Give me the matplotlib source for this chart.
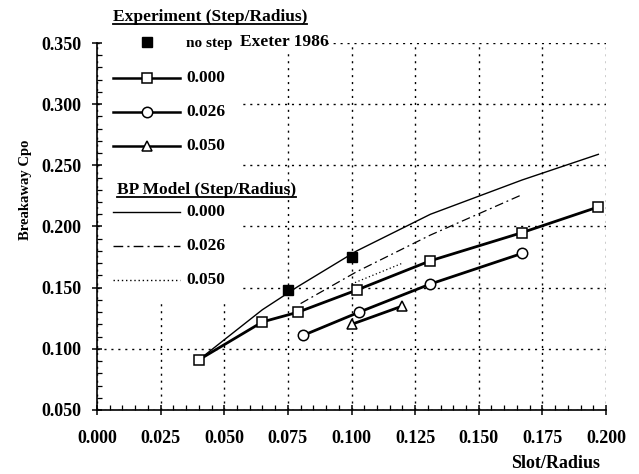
import matplotlib

matplotlib.use("Agg")
import matplotlib.pyplot as plt
from matplotlib.lines import Line2D
from matplotlib.patches import Rectangle
from matplotlib.ticker import FormatStrFormatter, MultipleLocator

# experiment, step/radius = 0.000 (open squares)
exp_000_x = [0.040, 0.065, 0.079, 0.102, 0.131, 0.167, 0.197]
exp_000_y = [0.091, 0.122, 0.130, 0.148, 0.172, 0.195, 0.216]
# experiment, step/radius = 0.026 (open circles)
exp_026_x = [0.081, 0.103, 0.131, 0.167]
exp_026_y = [0.111, 0.130, 0.153, 0.178]
# experiment, step/radius = 0.050 (open triangles)
exp_050_x = [0.100, 0.120]
exp_050_y = [0.120, 0.135]
# no step, Exeter 1986 (filled squares)
exeter_x = [0.075, 0.100]
exeter_y = [0.148, 0.175]

# BP model curves
bp_000_x = [0.040, 0.065, 0.079, 0.102, 0.131, 0.167, 0.197]
bp_000_y = [0.091, 0.132, 0.151, 0.180, 0.210, 0.238, 0.259]
bp_026_x = [0.080, 0.102, 0.131, 0.167]
bp_026_y = [0.137, 0.163, 0.193, 0.226]
bp_050_x = [0.100, 0.120]
bp_050_y = [0.153, 0.170]

x_ticks = [0.0, 0.025, 0.05, 0.075, 0.1, 0.125, 0.15, 0.175, 0.2]
y_ticks = [0.05, 0.1, 0.15, 0.2, 0.25, 0.3, 0.35]

W, H = 639, 474
FONT = "Liberation Serif"
GRID_LS = (0, (1.5, 3.5))
DASHDOT = (0, (7, 3, 1.5, 3))
DOTTED = (0, (1, 2))


def fx(px):
    return px / W


def fy(py):
    return 1 - py / H


def main() -> None:
    plt.rcParams["font.family"] = FONT
    fig = plt.figure(figsize=(W / 100, H / 100), dpi=100)
    ax = fig.add_axes([fx(97), fy(410), fx(606) - fx(97), fy(43) - fy(410)])
    ax.set_axisbelow(True)

    ax.set_xlim(0.0, 0.2)
    ax.set_ylim(0.05, 0.35)
    ax.set_xticks(x_ticks)
    ax.set_yticks(y_ticks)
    ax.xaxis.set_major_formatter(FormatStrFormatter("%.3f"))
    ax.yaxis.set_major_formatter(FormatStrFormatter("%.3f"))
    ax.xaxis.set_minor_locator(MultipleLocator(0.005))
    ax.yaxis.set_minor_locator(MultipleLocator(0.01))
    ax.tick_params(which="major", direction="inout", length=7, width=1.1, labelsize=13)
    ax.tick_params(which="minor", direction="in", length=3.5, width=0.9)
    ax.tick_params(axis="x", which="major", pad=11)
    ax.tick_params(axis="y", which="major", pad=8)
    for lab in ax.get_xticklabels() + ax.get_yticklabels():
        lab.set_fontweight("bold")

    ax.grid(True, which="major", color="black", linestyle=GRID_LS, linewidth=1.0)
    for side in ("top", "right"):
        ax.spines[side].set_visible(False)
    for side in ("left", "bottom"):
        ax.spines[side].set_linewidth(1.2)

    # legend area hides the grid behind it
    ax.add_patch(Rectangle((0.0025, 0.139), 0.055, 0.22, facecolor="white",
                           edgecolor="none", zorder=1, clip_on=False))
    ax.add_patch(Rectangle((0.0575, 0.341), 0.031, 0.018, facecolor="white",
                           edgecolor="none", zorder=1, clip_on=False))

    ax.plot(bp_000_x, bp_000_y, color="black", linewidth=1.0, zorder=3)
    ax.plot(bp_026_x, bp_026_y, color="black", linewidth=0.9, linestyle=DASHDOT, zorder=3)
    ax.plot(bp_050_x, bp_050_y, color="black", linewidth=0.9, linestyle=DOTTED, zorder=3)

    exp_style = dict(color="black", linewidth=2.0, markerfacecolor="white",
                     markeredgecolor="black", markeredgewidth=1.1, zorder=4)
    ax.plot(exp_000_x, exp_000_y, marker="s", markersize=7.5, **exp_style)
    ax.plot(exp_026_x, exp_026_y, marker="o", markersize=7.5, **exp_style)
    ax.plot(exp_050_x, exp_050_y, marker="^", markersize=7, **exp_style)
    ax.plot(exeter_x, exeter_y, linestyle="none", marker="s", markersize=7,
            color="black", zorder=5)

    ax.set_ylabel("Breakaway Cpo", fontsize=10.5, fontweight="bold")
    ax.yaxis.set_label_coords(-(97 - 32) / 509, (410 - 190) / 367)
    ax.set_xlabel("Slot/Radius", fontsize=13, fontweight="bold", ha="right", va="center")
    ax.xaxis.set_label_coords((600 - 97) / 509, -(464 - 410) / 367)

    # hand-built legend
    def handle(py, **kw):
        fig.add_artist(Line2D([fx(113), fx(180)], [fy(py), fy(py)], color="black", **kw))

    def label(px, py, s, size=12.5):
        return fig.text(fx(px), fy(py), s, fontsize=size, fontweight="bold",
                        ha="left", va="center")

    titles = [label(113, 17, "Experiment (Step/Radius)"),
              label(117, 190, "BP Model (Step/Radius)")]

    fig.add_artist(Line2D([fx(147)], [fy(42)], linestyle="none", marker="s",
                          markersize=6.5, color="black"))
    label(186, 43, "no step", size=11)
    label(240, 42, "Exeter 1986")

    exp_rows = [(78, "s", 7.5, "0.000"), (112, "o", 7.5, "0.026"), (146, "^", 6.5, "0.050")]
    for py, mk, ms, text in exp_rows:
        handle(py, linewidth=1.8)
        fig.add_artist(Line2D([fx(147)], [fy(py)], linestyle="none", marker=mk,
                              markersize=ms, markerfacecolor="white",
                              markeredgecolor="black", markeredgewidth=1.1))
        label(186, py, text)

    bp_rows = [(212, "-", "0.000"), (246, DASHDOT, "0.026"), (280, DOTTED, "0.050")]
    for py, ls, text in bp_rows:
        handle(py, linewidth=1.0, linestyle=ls)
        label(186, py, text)

    fig.canvas.draw()
    renderer = fig.canvas.get_renderer()
    for t in titles:
        bb = t.get_window_extent(renderer)
        y0 = bb.y0 + 1.5
        fig.add_artist(Line2D([bb.x0 / W, bb.x1 / W], [y0 / H, y0 / H],
                              color="black", linewidth=1.3))

    fig.savefig("out.png", dpi=100)
    plt.close(fig)


if __name__ == "__main__":
    main()
